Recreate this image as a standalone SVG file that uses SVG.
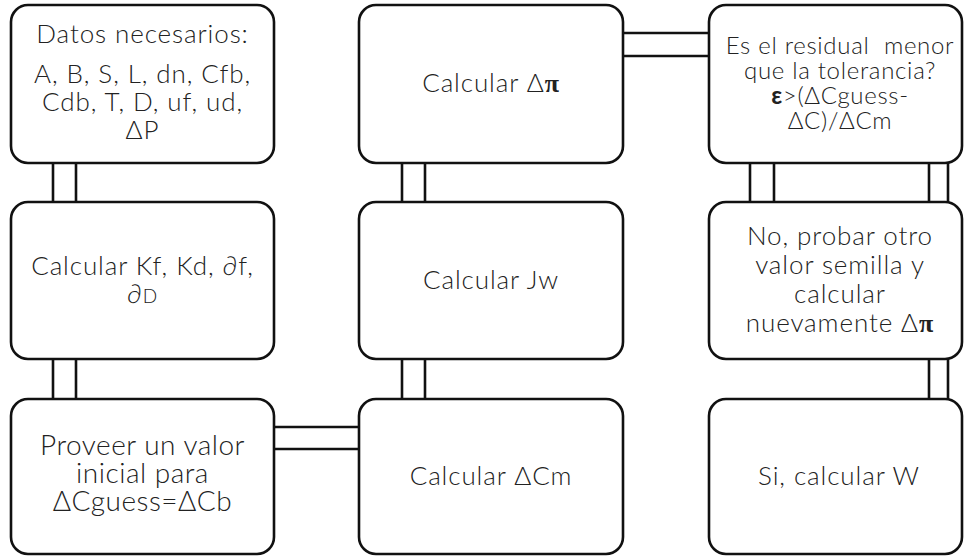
<svg xmlns="http://www.w3.org/2000/svg" width="964" height="556" viewBox="0 0 964 556">
<style>
.box{fill:#fff;stroke:#111;stroke-width:2.6}
.c{stroke:#111;stroke-width:2.6;fill:none}
text{font-family:Lato,"Liberation Sans",sans-serif;font-weight:300;fill:#222;text-anchor:middle;font-size:26px;letter-spacing:0.9px;white-space:pre}
.f24{font-size:24px;letter-spacing:0.7px}
.f28{font-size:28px;letter-spacing:0.5px}
.pi{font-family:"Liberation Serif","DejaVu Serif",serif;font-weight:700}
</style>
<rect width="964" height="556" fill="#fff"/>
<g id="connectors">
<path class="c" d="M53,163V202M76,163V202"/>
<path class="c" d="M53,359V399M76,359V399"/>
<path class="c" d="M274,427H360M274,449H360"/>
<path class="c" d="M402,359V399M425,359V399"/>
<path class="c" d="M402,163V202M425,163V202"/>
<path class="c" d="M623,33H709M623,56H709"/>
<path class="c" d="M750,163V202M774,163V202"/>
<path class="c" d="M929,163V202M948,163V202"/>
<path class="c" d="M929,359V399M948,359V399"/>
</g>
<g id="datos">
<rect class="box" x="11" y="5" width="263" height="158" rx="17"/>
<text x="142.5" y="43">Datos necesarios:</text>
<text x="142.5" y="83">A, B, S, L, dn, Cfb,</text>
<text x="142.5" y="111">Cdb, T, D, uf, ud,</text>
<text x="142.5" y="139">ΔP</text>
</g>
<g id="calc-kf">
<rect class="box" x="11" y="202" width="263" height="157" rx="17"/>
<text x="142.5" y="275">Calcular Kf, Kd, ∂f,</text>
<text x="142.5" y="303">∂<tspan font-size="19">D</tspan></text>
</g>
<g id="proveer">
<rect class="box" x="11" y="399" width="263" height="155" rx="17"/>
<text class="f28" x="142.5" y="455">Proveer un valor</text>
<text class="f28" x="142.5" y="483">inicial para</text>
<text class="f28" x="142.5" y="511">ΔCguess=ΔCb</text>
</g>
<g id="calc-pi">
<rect class="box" x="359" y="5" width="264" height="158" rx="17"/>
<text x="491" y="92">Calcular Δ<tspan class="pi">π</tspan></text>
</g>
<g id="calc-jw">
<rect class="box" x="359" y="202" width="264" height="157" rx="17"/>
<text x="491" y="289">Calcular Jw</text>
</g>
<g id="calc-cm">
<rect class="box" x="359" y="399" width="264" height="155" rx="17"/>
<text x="491" y="485">Calcular ΔCm</text>
</g>
<g id="residual">
<rect class="box" x="709" y="5" width="253" height="158" rx="17"/>
<text class="f24" x="840" y="54">Es el residual  menor</text>
<text class="f24" x="840" y="79">que la tolerancia?</text>
<text class="f24" x="840" y="104"><tspan font-weight="700">ε</tspan>&gt;(ΔCguess-</text>
<text class="f24" x="840" y="129">ΔC)/ΔCm</text>
</g>
<g id="no-probar">
<rect class="box" x="709" y="202" width="253" height="157" rx="17"/>
<text x="840" y="245">No, probar otro</text>
<text x="840" y="274">valor semilla y</text>
<text x="840" y="303">calcular</text>
<text x="840" y="332">nuevamente Δ<tspan class="pi">π</tspan></text>
</g>
<g id="si-calcular">
<rect class="box" x="709" y="399" width="253" height="155" rx="17"/>
<text x="839" y="485">Si, calcular W</text>
</g>
</svg>
